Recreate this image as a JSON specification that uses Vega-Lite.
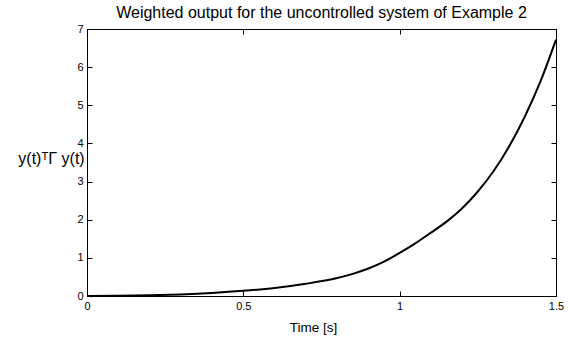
{
  "$schema": "https://vega.github.io/schema/vega-lite/v6.json",
  "width": 469,
  "height": 267,
  "autosize": {"type": "none"},
  "padding": {"left": 87, "top": 29, "right": 12, "bottom": 41},
  "background": "white",
  "title": {
    "text": "Weighted output for the uncontrolled system of Example 2",
    "font": "Liberation Sans",
    "fontSize": 16,
    "fontWeight": "normal",
    "color": "black",
    "anchor": "middle",
    "offset": 2
  },
  "config": {
    "view": {"stroke": "black", "strokeWidth": 1},
    "axis": {
      "domainColor": "black",
      "tickColor": "black",
      "labelColor": "black",
      "titleColor": "black",
      "labelFont": "Liberation Sans",
      "titleFont": "Liberation Sans",
      "labelFontSize": 11,
      "titleFontSize": 14,
      "titleFontWeight": "normal",
      "grid": false,
      "tickSize": -5,
      "labelPadding": 9,
      "labelFlush": false,
      "labelOverlap": false
    }
  },
  "data": {
    "values": [
      {"t": 0, "v": 0},
      {"t": 0.1, "v": 0.005},
      {"t": 0.2, "v": 0.018},
      {"t": 0.3, "v": 0.042},
      {"t": 0.4, "v": 0.08},
      {"t": 0.5, "v": 0.135},
      {"t": 0.6, "v": 0.21},
      {"t": 0.7, "v": 0.32},
      {"t": 0.8, "v": 0.47},
      {"t": 0.85, "v": 0.58},
      {"t": 0.9, "v": 0.72},
      {"t": 0.95, "v": 0.9},
      {"t": 1.0, "v": 1.13},
      {"t": 1.05, "v": 1.38},
      {"t": 1.1, "v": 1.66},
      {"t": 1.15, "v": 1.95},
      {"t": 1.2, "v": 2.3},
      {"t": 1.25, "v": 2.74},
      {"t": 1.3, "v": 3.27},
      {"t": 1.35, "v": 3.92},
      {"t": 1.4, "v": 4.7},
      {"t": 1.45, "v": 5.62},
      {"t": 1.5, "v": 6.72}
    ]
  },
  "layer": [
    {
      "mark": {"type": "line", "color": "black", "strokeWidth": 2, "interpolate": "monotone", "clip": true},
      "encoding": {
        "x": {
          "field": "t", "type": "quantitative",
          "scale": {"domain": [0, 1.5], "nice": false},
          "axis": {"orient": "bottom", "title": "Time [s]", "titleFontSize": 13.5, "titleX": 226, "values": [0, 0.5, 1, 1.5], "format": "~g", "titlePadding": 9}
        },
        "y": {
          "field": "v", "type": "quantitative",
          "scale": {"domain": [0, 7], "nice": false},
          "axis": {"orient": "left", "title": "y(t)ᵀΓ y(t)", "titleFontSize": 16, "values": [0, 1, 2, 3, 4, 5, 6, 7], "titleAngle": 0, "titleX": -36, "titleY": 129, "titleAlign": "center", "titleBaseline": "middle"}
        }
      }
    },
    {
      "mark": {"type": "line", "opacity": 0},
      "encoding": {
        "x": {
          "field": "t", "type": "quantitative",
          "axis": {"orient": "top", "title": null, "labels": false, "labelPadding": 0, "values": [0, 0.5, 1, 1.5]}
        },
        "y": {
          "field": "v", "type": "quantitative",
          "axis": {"orient": "right", "title": null, "labels": false, "labelPadding": 0, "values": [0, 1, 2, 3, 4, 5, 6, 7]}
        }
      }
    }
  ],
  "resolve": {"axis": {"x": "independent", "y": "independent"}}
}
